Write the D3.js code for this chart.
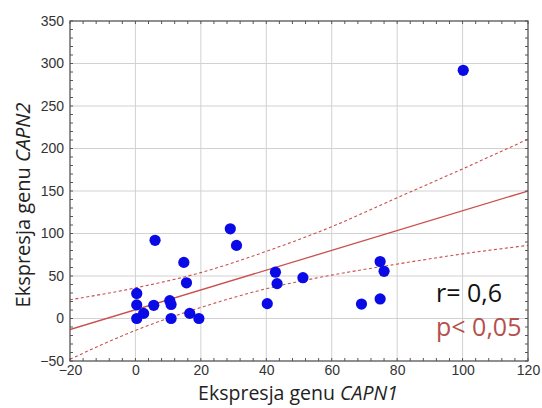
<!DOCTYPE html>
<html><head><meta charset="utf-8">
<script src="https://cdn.jsdelivr.net/npm/d3@7"></script>
<style>body{margin:0;background:#fff}svg{display:block}</style>
</head><body>
<script>
// ---- data ----
const xVals = [6.0, 29.0, 30.9, 14.8, 15.6, 0.4, 0.4, 0.4, 2.5, 5.6, 10.5, 10.9, 10.9, 16.6, 19.4, 42.8, 43.3, 51.2, 40.3, 74.8, 76.0, 69.1, 74.8, 100.2];
const yVals = [92, 105.5, 86, 66, 42, 29.5, 16, 0, 6, 15.5, 21, 16.5, 0, 6, 0, 54.5, 41, 48, 17.5, 67, 55.5, 17, 23, 292];
const fitX = [-20, 120];
const fitY = [-13, 150];
const bandX = [-20, 0, 20, 40, 60, 80, 100, 120];
const bandUpper = [22, 36, 54, 79, 108, 142, 176, 211];
const bandLower = [-48, -14, 13, 35, 51, 64, 76, 86];
const xTicks = [-20, 0, 20, 40, 60, 80, 100, 120];
const yTicks = [-50, 0, 50, 100, 150, 200, 250, 300, 350];
const xLabel = ["Ekspresja genu ", "CAPN1"];
const yLabel = ["Ekspresja genu ", "CAPN2"];
const statR = "r= 0,6";
const statP = "p< 0,05";

const W = 542, H = 408;
const m = {l: 70, r: 14, t: 21, b: 47};
const svg = d3.select("body").append("svg").attr("width", W).attr("height", H);
const x = d3.scaleLinear().domain([-20, 120]).range([m.l, W - m.r]);
const y = d3.scaleLinear().domain([-50, 350]).range([H - m.b, m.t]);
const red = "#c9504c";

// grid
const g = svg.append("g");
g.selectAll(".gx").data(xTicks.slice(1, -1)).join("line")
  .attr("x1", d => x(d)).attr("x2", d => x(d)).attr("y1", m.t).attr("y2", H - m.b)
  .attr("stroke", "#d2d2d2").attr("stroke-width", 1);
g.selectAll(".gy").data(yTicks.slice(1, -1)).join("line")
  .attr("y1", d => y(d)).attr("y2", d => y(d)).attr("x1", m.l).attr("x2", W - m.r)
  .attr("stroke", "#d2d2d2").attr("stroke-width", 1);

// bands and fit
svg.append("clipPath").attr("id", "c").append("rect")
  .attr("x", m.l).attr("y", m.t).attr("width", W - m.l - m.r).attr("height", H - m.t - m.b);
const line = d3.line().x(d => x(d[0])).y(d => y(d[1])).curve(d3.curveMonotoneX);
const lg = svg.append("g").attr("clip-path", "url(#c)");
lg.append("path").attr("d", line(bandX.map((d, i) => [d, bandUpper[i]])))
  .attr("fill", "none").attr("stroke", red).attr("stroke-width", 1.1).attr("stroke-dasharray", "3,2.5");
lg.append("path").attr("d", line(bandX.map((d, i) => [d, bandLower[i]])))
  .attr("fill", "none").attr("stroke", red).attr("stroke-width", 1.1).attr("stroke-dasharray", "3,2.5");
lg.append("path").attr("d", line(fitX.map((d, i) => [d, fitY[i]])))
  .attr("fill", "none").attr("stroke", red).attr("stroke-width", 1.3);

// points
svg.append("g").selectAll("circle").data(xVals.map((d, i) => [d, yVals[i]])).join("circle")
  .attr("cx", d => x(d[0])).attr("cy", d => y(d[1])).attr("r", 5.6).attr("fill", "#0a0ae6");

// axes
const frameCol = "#555";
const ax = svg.append("g").attr("transform", `translate(0,${H - m.b})`)
  .call(d3.axisBottom(x).tickValues(xTicks).tickSize(0).tickPadding(4));
const ay = svg.append("g").attr("transform", `translate(${m.l},0)`)
  .call(d3.axisLeft(y).tickValues(yTicks).tickSize(0).tickPadding(6));
[ax, ay].forEach(a => {
  a.select(".domain").remove();
  a.attr("font-size", null).attr("font-family", null);
  a.selectAll("text").style("font-family", "Liberation Sans, Arial, sans-serif").style("font-size", "14px").attr("fill", "#333");
});
// minor ticks
const minorX = d3.range(-20, 121, 4);
const minorY = d3.range(-50, 351, 10);
const tk = svg.append("g").attr("stroke", frameCol).attr("stroke-width", 1);
tk.selectAll(".mxb").data(minorX).join("line").attr("x1", d => x(d)).attr("x2", d => x(d))
  .attr("y1", H - m.b).attr("y2", H - m.b - 3);
tk.selectAll(".mxt").data(minorX).join("line").attr("x1", d => x(d)).attr("x2", d => x(d))
  .attr("y1", m.t).attr("y2", m.t + 3);
tk.selectAll(".myl").data(minorY).join("line").attr("y1", d => y(d)).attr("y2", d => y(d))
  .attr("x1", m.l).attr("x2", m.l + 3);
tk.selectAll(".myr").data(minorY).join("line").attr("y1", d => y(d)).attr("y2", d => y(d))
  .attr("x1", W - m.r).attr("x2", W - m.r - 3);
svg.append("rect").attr("x", m.l).attr("y", m.t).attr("width", W - m.l - m.r).attr("height", H - m.t - m.b)
  .attr("fill", "none").attr("stroke", frameCol).attr("stroke-width", 1.3);

// labels
const lf = "Open Sans, Noto Sans, sans-serif";
const xl = svg.append("text").attr("x", 298).attr("y", 400)
  .attr("text-anchor", "middle").attr("font-family", lf).attr("font-size", 19.5).attr("fill", "#222");
xl.append("tspan").text(xLabel[0]);
xl.append("tspan").attr("font-style", "italic").text(xLabel[1]);
const yl = svg.append("text").attr("transform", `translate(30,205) rotate(-90)`)
  .attr("text-anchor", "middle").attr("font-family", lf).attr("font-size", 20).attr("fill", "#222");
yl.append("tspan").text(yLabel[0]);
yl.append("tspan").attr("font-style", "italic").text(yLabel[1]);

svg.append("text").attr("x", 436).attr("y", 302).attr("font-family", lf).attr("font-size", 25)
  .attr("fill", "#111").text(statR);
svg.append("text").attr("x", 436).attr("y", 336).attr("font-family", lf).attr("font-size", 25)
  .attr("fill", "#b5504c").text(statP);
</script>
</body></html>
